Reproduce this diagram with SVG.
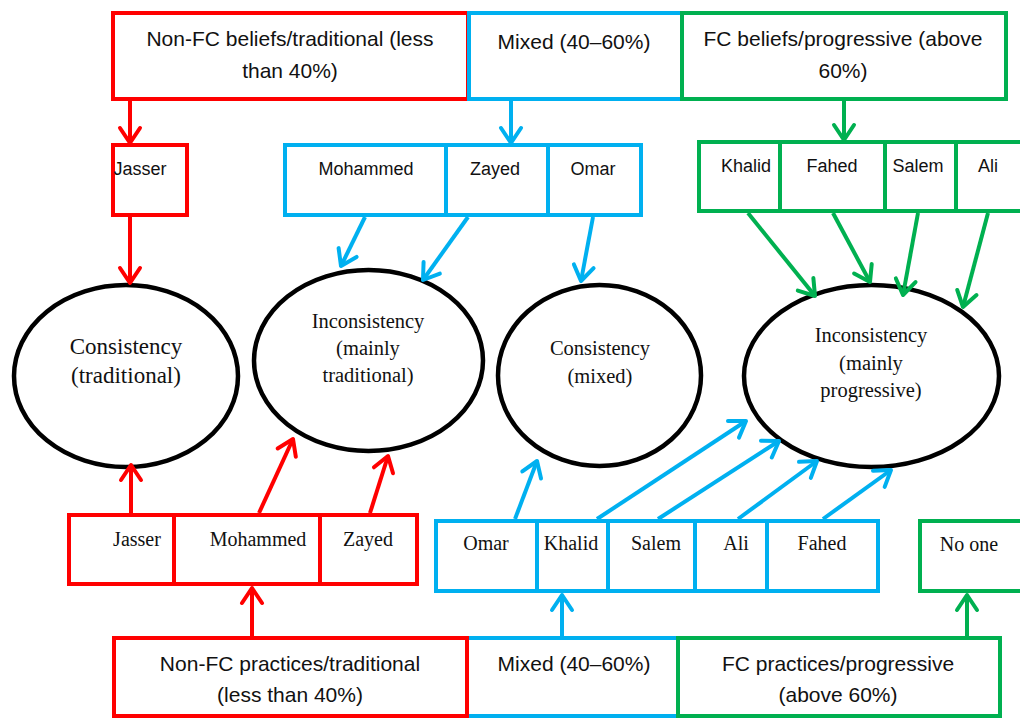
<svg xmlns="http://www.w3.org/2000/svg" width="1020" height="720" viewBox="0 0 1020 720">
  <defs>
    <style>
      .box { fill: #FFFFFF; stroke-width: 4; stroke-linejoin: miter; }
      .red { stroke: #FF0000; }
      .blue { stroke: #00B0F0; }
      .green { stroke: #00B050; }
      .oval { fill: #FFFFFF; stroke: #000000; stroke-width: 4.5; }
      .sans { font-family: "Liberation Sans", Arial, sans-serif; fill: #111111; text-anchor: middle; }
      .serif { font-family: "Liberation Serif", "Times New Roman", serif; fill: #111111; text-anchor: middle; }
      .big { font-size: 21px; }
      .name { font-size: 18px; }
      .sname { font-size: 20px; }
      .otext { font-size: 20.5px; }
      .arrow { fill: none; stroke-width: 4; stroke-linecap: butt; }
    </style>
    <marker id="ah-red" viewBox="-18 -13 23 26" refX="0" refY="0" markerWidth="23" markerHeight="26" markerUnits="userSpaceOnUse" orient="auto">
      <path d="M-15,-10 L0,0 L-15,10" fill="none" stroke="#FF0000" stroke-width="4" stroke-linecap="round" stroke-linejoin="round"/>
    </marker>
    <marker id="ah-blue" viewBox="-18 -13 23 26" refX="0" refY="0" markerWidth="23" markerHeight="26" markerUnits="userSpaceOnUse" orient="auto">
      <path d="M-15,-10 L0,0 L-15,10" fill="none" stroke="#00B0F0" stroke-width="4" stroke-linecap="round" stroke-linejoin="round"/>
    </marker>
    <marker id="ah-green" viewBox="-18 -13 23 26" refX="0" refY="0" markerWidth="23" markerHeight="26" markerUnits="userSpaceOnUse" orient="auto">
      <path d="M-15,-10 L0,0 L-15,10" fill="none" stroke="#00B050" stroke-width="4" stroke-linecap="round" stroke-linejoin="round"/>
    </marker>
  </defs>

  <rect width="1020" height="720" fill="#FFFFFF"/>

  <!-- belief categories (top row) -->
  <g id="beliefs-traditional">
    <rect class="box red" x="113" y="13" width="355" height="86"/>
    <text class="sans big" x="290" y="46">Non-FC beliefs/traditional (less</text>
    <text class="sans big" x="290" y="78">than 40%)</text>
  </g>
  <g id="beliefs-mixed">
    <rect class="box blue" x="469" y="13" width="213" height="86"/>
    <text class="sans big" x="574" y="49">Mixed (40–60%)</text>
  </g>
  <g id="beliefs-progressive">
    <rect class="box green" x="682" y="13" width="324" height="86"/>
    <text class="sans big" x="843" y="46">FC beliefs/progressive (above</text>
    <text class="sans big" x="843" y="78">60%)</text>
  </g>

  <!-- teachers grouped by beliefs -->
  <g id="b-jasser">
    <rect class="box red" x="113" y="145" width="74" height="70"/>
    <text class="sans name" x="140" y="175">Jasser</text>
  </g>
  <g id="b-mohammed">
    <rect class="box blue" x="285" y="145" width="161" height="70"/>
    <text class="sans name" x="366" y="175">Mohammed</text>
  </g>
  <g id="b-zayed">
    <rect class="box blue" x="446" y="145" width="102" height="70"/>
    <text class="sans name" x="495" y="175">Zayed</text>
  </g>
  <g id="b-omar">
    <rect class="box blue" x="548" y="145" width="93" height="70"/>
    <text class="sans name" x="593" y="175">Omar</text>
  </g>
  <g id="b-khalid">
    <rect class="box green" x="699" y="142" width="81" height="69"/>
    <text class="sans name" x="746" y="172">Khalid</text>
  </g>
  <g id="b-fahed">
    <rect class="box green" x="780" y="142" width="105" height="69"/>
    <text class="sans name" x="832" y="172">Fahed</text>
  </g>
  <g id="b-salem">
    <rect class="box green" x="885" y="142" width="71" height="69"/>
    <text class="sans name" x="918" y="172">Salem</text>
  </g>
  <g id="b-ali">
    <rect class="box green" x="956" y="142" width="80" height="69"/>
    <text class="sans name" x="988" y="172">Ali</text>
  </g>

  <!-- outcome ellipses -->
  <g id="consistency-traditional">
    <ellipse class="oval" cx="126" cy="376" rx="112" ry="91"/>
    <text class="serif" font-size="23" x="126" y="354">Consistency</text>
    <text class="serif" font-size="23" x="126" y="383">(traditional)</text>
  </g>
  <g id="inconsistency-traditional">
    <ellipse class="oval" cx="368.5" cy="360.5" rx="114.5" ry="90.5"/>
    <text class="serif otext" x="368" y="328">Inconsistency</text>
    <text class="serif otext" x="368" y="355">(mainly</text>
    <text class="serif otext" x="368" y="382">traditional)</text>
  </g>
  <g id="consistency-mixed">
    <ellipse class="oval" cx="599.5" cy="375.5" rx="101.5" ry="90.5"/>
    <text class="serif otext" x="600" y="355">Consistency</text>
    <text class="serif otext" x="600" y="383">(mixed)</text>
  </g>
  <g id="inconsistency-progressive">
    <ellipse class="oval" cx="871.5" cy="376" rx="127.5" ry="91"/>
    <text class="serif otext" x="871" y="342">Inconsistency</text>
    <text class="serif otext" x="871" y="370">(mainly</text>
    <text class="serif otext" x="871" y="397">progressive)</text>
  </g>

  <!-- teachers grouped by practices -->
  <g id="p-jasser">
    <rect class="box red" x="69" y="515" width="105" height="69"/>
    <text class="serif sname" x="137" y="546">Jasser</text>
  </g>
  <g id="p-mohammed">
    <rect class="box red" x="174" y="515" width="146" height="69"/>
    <text class="serif sname" x="258" y="546">Mohammed</text>
  </g>
  <g id="p-zayed">
    <rect class="box red" x="320" y="515" width="97" height="69"/>
    <text class="serif sname" x="368" y="546">Zayed</text>
  </g>
  <g id="p-omar">
    <rect class="box blue" x="436" y="521" width="101" height="70"/>
    <text class="serif sname" x="486" y="550">Omar</text>
  </g>
  <g id="p-khalid">
    <rect class="box blue" x="537" y="521" width="71" height="70"/>
    <text class="serif sname" x="571" y="550">Khalid</text>
  </g>
  <g id="p-salem">
    <rect class="box blue" x="608" y="521" width="87" height="70"/>
    <text class="serif sname" x="656" y="550">Salem</text>
  </g>
  <g id="p-ali">
    <rect class="box blue" x="695" y="521" width="72" height="70"/>
    <text class="serif sname" x="736" y="550">Ali</text>
  </g>
  <g id="p-fahed">
    <rect class="box blue" x="767" y="521" width="111" height="70"/>
    <text class="serif sname" x="822" y="550">Fahed</text>
  </g>
  <g id="p-noone">
    <rect class="box green" x="920" y="521" width="120" height="70"/>
    <text class="serif sname" x="969" y="551">No one</text>
  </g>

  <!-- practice categories (bottom row) -->
  <g id="practices-mixed">
    <rect class="box blue" x="467" y="638" width="211" height="78"/>
    <text class="sans big" x="574" y="671">Mixed (40–60%)</text>
  </g>
  <g id="practices-progressive">
    <rect class="box green" x="678" y="638" width="322" height="78"/>
    <text class="sans big" x="838" y="671">FC practices/progressive</text>
    <text class="sans big" x="838" y="702">(above 60%)</text>
  </g>
  <g id="practices-traditional">
    <rect class="box red" x="114" y="638" width="353" height="78"/>
    <text class="sans big" x="290" y="671">Non-FC practices/traditional</text>
    <text class="sans big" x="290" y="702">(less than 40%)</text>
  </g>

  <!-- connectors -->
  <g id="connectors">
    <g class="arrow red" marker-end="url(#ah-red)">
      <line x1="130" y1="101" x2="130" y2="143"/>
      <line x1="130" y1="217" x2="130" y2="283"/>
      <line x1="131" y1="513" x2="131" y2="465"/>
      <line x1="259" y1="513" x2="293" y2="439"/>
      <line x1="370" y1="513" x2="388" y2="456"/>
      <line x1="252" y1="636" x2="252" y2="588"/>
    </g>
    <g class="arrow blue" marker-end="url(#ah-blue)">
      <line x1="511" y1="101" x2="511" y2="143"/>
      <line x1="365" y1="217" x2="341" y2="266"/>
      <line x1="468" y1="217" x2="423" y2="280"/>
      <line x1="593" y1="217" x2="581" y2="281"/>
      <line x1="515" y1="519" x2="537" y2="461"/>
      <line x1="597" y1="519" x2="746" y2="421"/>
      <line x1="658" y1="519" x2="779" y2="441"/>
      <line x1="738" y1="519" x2="817" y2="461"/>
      <line x1="823" y1="519" x2="891" y2="470"/>
      <line x1="562" y1="636" x2="562" y2="595"/>
    </g>
    <g class="arrow green" marker-end="url(#ah-green)">
      <line x1="844" y1="101" x2="844" y2="140"/>
      <line x1="748" y1="213" x2="815" y2="296"/>
      <line x1="833" y1="213" x2="870" y2="282"/>
      <line x1="918" y1="213" x2="903" y2="295"/>
      <line x1="988" y1="213" x2="963" y2="307"/>
      <line x1="967" y1="636" x2="967" y2="595"/>
    </g>
  </g>
</svg>
